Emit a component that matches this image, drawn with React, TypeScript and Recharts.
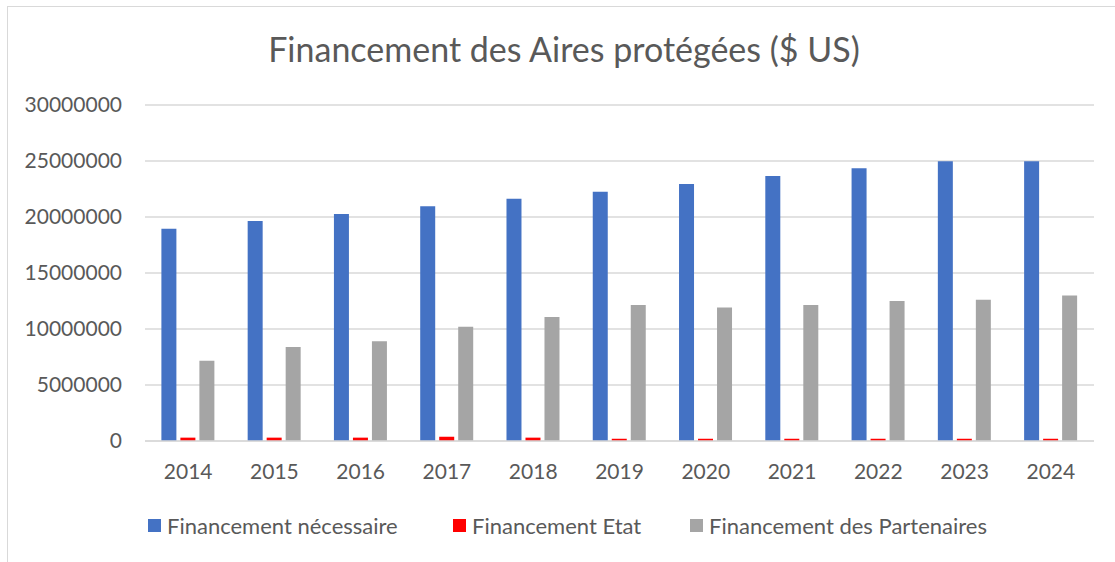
import React from "react";
import { BarChart, Bar, XAxis, YAxis, CartesianGrid } from "recharts";

const years = ["2014", "2015", "2016", "2017", "2018", "2019", "2020", "2021", "2022", "2023", "2024"];
const necessaire = [18960000, 19640000, 20270000, 20950000, 21640000, 22260000, 22950000, 23660000, 24350000, 24970000, 24970000];
const etat = [300000, 300000, 300000, 380000, 300000, 200000, 200000, 200000, 200000, 200000, 200000];
const partenaires = [7170000, 8390000, 8900000, 10210000, 11070000, 12140000, 11930000, 12140000, 12500000, 12620000, 13000000];
const yTicks = [0, 5000000, 10000000, 15000000, 20000000, 25000000, 30000000];
const seriesNames = ["Financement nécessaire", "Financement Etat", "Financement des Partenaires"];
const seriesColors = ["#4472C4", "#FF0000", "#A5A5A5"];
const title = "Financement des Aires protégées ($ US)";

const data = years.map((y, i) => ({
  year: y,
  necessaire: necessaire[i],
  etat: etat[i],
  partenaires: partenaires[i],
}));

const FONT = "Lato, 'Open Sans', sans-serif";
const TEXT = "#595959";
const legendLefts = [148, 453, 690];

export default function App() {
  return (
    <div style={{ position: "fixed", left: 0, top: 0, width: 1115, height: 562, background: "#fff" }}>
      <div
        style={{
          position: "absolute",
          left: 7,
          top: 6,
          right: 0,
          bottom: 0,
          borderLeft: "1.5px solid #d9d9d9",
          borderTop: "1.5px solid #d9d9d9",
        }}
      />
      <div
        style={{
          position: "absolute",
          left: 0,
          width: 1128,
          top: 29,
          textAlign: "center",
          fontFamily: FONT,
          fontSize: 34,
          color: TEXT,
          lineHeight: "40px",
          whiteSpace: "nowrap",
        }}
      >
        {title}
      </div>
      <div style={{ position: "absolute", left: 0, top: 0 }}>
        <BarChart
          width={1115}
          height={562}
          data={data}
          margin={{ top: 105, right: 21, bottom: 91, left: 0 }}
          barCategoryGap="19%"
          barGap={4}
        >
          <CartesianGrid vertical={false} stroke="#d9d9d9" strokeWidth={1.5} />
          <XAxis
            dataKey="year"
            height={30}
            axisLine={{ stroke: "#d9d9d9", strokeWidth: 1.5 }}
            tickLine={false}
            tickSize={0}
            tickMargin={23}
            tick={{ fill: TEXT, fontSize: 21, fontFamily: FONT }}
            interval={0}
          />
          <YAxis
            width={145}
            domain={[0, 30000000]}
            ticks={yTicks}
            axisLine={false}
            tickLine={false}
            tickSize={0}
            tickMargin={23}
            tick={{ fill: TEXT, fontSize: 21, fontFamily: FONT }}
          />
          <Bar dataKey="necessaire" name={seriesNames[0]} fill={seriesColors[0]} isAnimationActive={false} />
          <Bar dataKey="etat" name={seriesNames[1]} fill={seriesColors[1]} isAnimationActive={false} />
          <Bar dataKey="partenaires" name={seriesNames[2]} fill={seriesColors[2]} isAnimationActive={false} />
        </BarChart>
      </div>
      {seriesNames.map((n, i) => (
        <div
          key={n}
          style={{
            position: "absolute",
            left: legendLefts[i],
            top: 511,
            height: 28,
            display: "flex",
            alignItems: "center",
            fontFamily: FONT,
            fontSize: 22,
            color: TEXT,
            whiteSpace: "nowrap",
          }}
        >
          <span style={{ width: 13, height: 13, background: seriesColors[i], display: "inline-block", marginRight: 6 }} />
          <span>{n}</span>
        </div>
      ))}
    </div>
  );
}
